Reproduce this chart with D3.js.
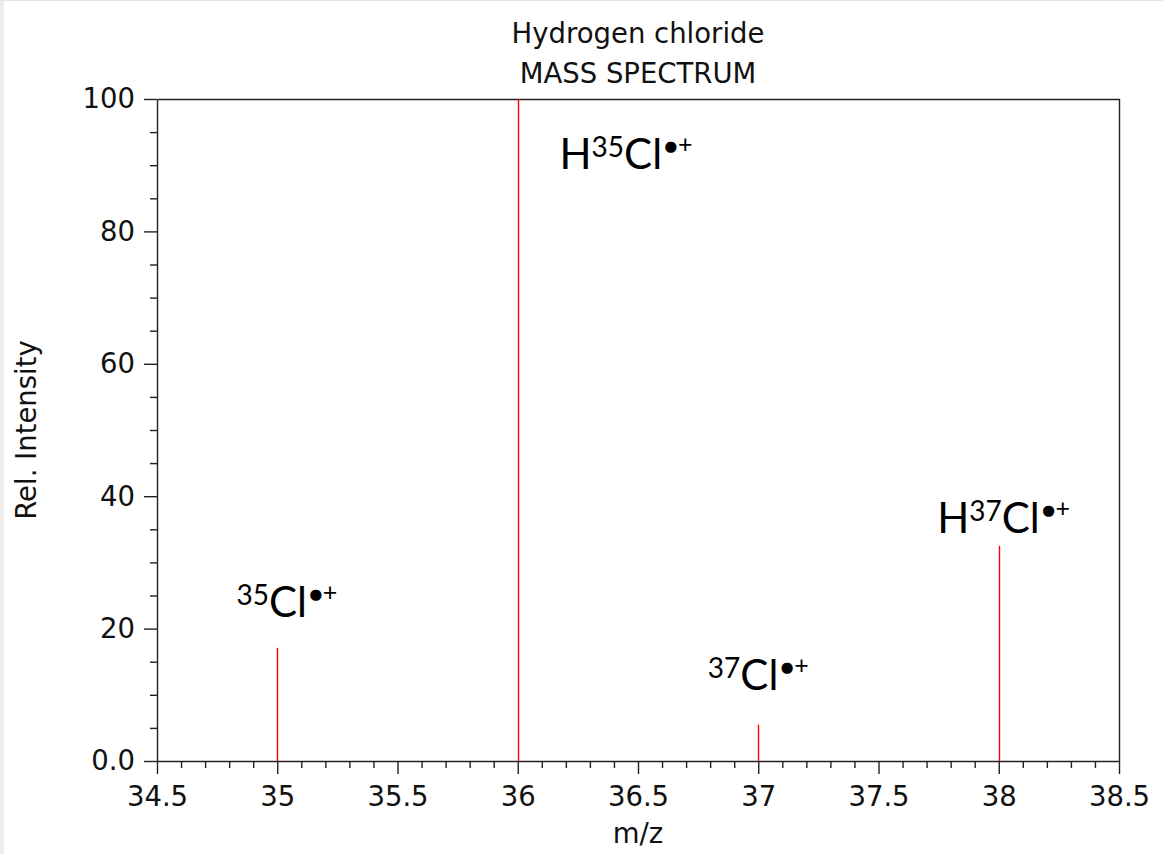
<!DOCTYPE html>
<html>
<head>
<meta charset="utf-8">
<script src="https://cdn.jsdelivr.net/npm/d3@7"></script>
<style>
  html, body { margin: 0; padding: 0; background: #fff; }
  svg { display: block; }
  .axis text { font-family: "DejaVu Sans", sans-serif; font-size: 27.5px; fill: #111; }
  .axis path, .axis line { stroke: #222; stroke-width: 1.4; }
  .ion { font-family: Lato, "Open Sans", sans-serif; fill: #000; }
</style>
</head>
<body>
<div id="chart"></div>
<script>
// peaks
const mzValues = [35, 36, 37, 38]
const intensities = [17.1, 100, 5.5, 32.5]

const xTicks = [34.5, 35, 35.5, 36, 36.5, 37, 37.5, 38, 38.5]
const xTickLabels = ["34.5", "35", "35.5", "36", "36.5", "37", "37.5", "38", "38.5"]
const yTicks = [0, 20, 40, 60, 80, 100]
const yTickLabels = ["0.0", "20", "40", "60", "80", "100"]

// ion annotations (anchor in data units)
const ionPrefix = ["", "H", "", "H"]
const ionIsotope = ["35", "35", "37", "37"]
const ionMz = [35.04, 36.45, 37.0, 38.02]
const ionLevel = [21.8, 89.4, 10.8, 34.5]

const W = 1163, H = 854
const margin = {top: 99, right: 44, bottom: 93, left: 157}

const svg = d3.select("#chart")
    .append("svg")
    .attr("width", W)
    .attr("height", H)

// faint window edges from the screenshot
svg.append("rect").attr("x", 0).attr("y", 0).attr("width", 4).attr("height", H).style("fill", "#ececec")
svg.append("line").attr("x1", 0).attr("x2", W).attr("y1", 0.5).attr("y2", 0.5).style("stroke", "#e4e4e4")

const x = d3.scaleLinear()
    .domain([34.5, 38.5])
    .range([margin.left, W - margin.right])

const y = d3.scaleLinear()
    .domain([0, 100])
    .range([H - margin.bottom, margin.top])

// minor ticks first
const xMinor = d3.range(345, 386).map(d => d / 10).filter(d => !xTicks.some(t => Math.abs(t - d) < 1e-9))
const yMinor = d3.range(0, 101, 5).filter(d => d % 20 !== 0)

svg.append("g")
    .attr("class", "axis")
    .attr("transform", `translate(0,${H - margin.bottom})`)
    .call(d3.axisBottom(x).tickValues(xMinor).tickSize(7).tickSizeOuter(0).tickFormat(""))
    .call(g => g.select(".domain").remove())

svg.append("g")
    .attr("class", "axis")
    .attr("transform", `translate(${margin.left},0)`)
    .call(d3.axisLeft(y).tickValues(yMinor).tickSize(7).tickSizeOuter(0).tickFormat(""))
    .call(g => g.select(".domain").remove())

// top and right frame
svg.append("path")
    .attr("d", `M${margin.left + 0.5},${margin.top + 0.5}H${W - margin.right + 0.5}V${H - margin.bottom + 0.5}`)
    .style("fill", "none")
    .style("stroke", "#222")
    .style("stroke-width", 1.4)

svg.append("g")
    .attr("class", "axis")
    .attr("transform", `translate(0,${H - margin.bottom})`)
    .call(d3.axisBottom(x).tickValues(xTicks).tickSize(13).tickSizeOuter(0).tickPadding(12)
        .tickFormat((d, i) => xTickLabels[i]))

svg.append("g")
    .attr("class", "axis")
    .attr("transform", `translate(${margin.left},0)`)
    .call(d3.axisLeft(y).tickValues(yTicks).tickSize(13).tickSizeOuter(0).tickPadding(9)
        .tickFormat((d, i) => yTickLabels[i]))

// peaks
svg.append("g")
    .selectAll("line")
    .data(mzValues)
    .join("line")
    .attr("x1", d => Math.round(x(d)) + 0.5)
    .attr("x2", d => Math.round(x(d)) + 0.5)
    .attr("y1", y(0))
    .attr("y2", (d, i) => y(intensities[i]))
    .style("stroke", "#ff0000")
    .style("stroke-width", 1.4)

// ion labels
const ions = svg.append("g")
    .selectAll("text")
    .data(ionMz)
    .join("text")
    .attr("class", "ion")
    .attr("x", d => x(d))
    .attr("y", (d, i) => y(ionLevel[i]))
    .attr("text-anchor", "middle")
    .style("font-size", "42px")

ions.each(function(d, i) {
    const t = d3.select(this)
    if (ionPrefix[i]) t.append("tspan").text(ionPrefix[i])
    t.append("tspan").attr("dy", -12).style("font-size", "28px").text(ionIsotope[i])
    t.append("tspan").attr("dy", 12).text("Cl")
    t.append("tspan").attr("dy", -15).attr("dx", 2).style("font-size", "23px").text("\u25CF")
    t.append("tspan").attr("dy", -1).style("font-size", "25px").text("+")
})

// titles
const title = svg.append("g")
    .style("font-family", "DejaVu Sans, sans-serif")
    .style("font-size", "27.5px")
    .style("fill", "#111")
    .attr("text-anchor", "middle")

title.append("text")
    .attr("x", (margin.left + W - margin.right) / 2)
    .attr("y", 43)
    .text("Hydrogen chloride")

title.append("text")
    .attr("x", (margin.left + W - margin.right) / 2)
    .attr("y", 83)
    .text("MASS SPECTRUM")

title.append("text")
    .attr("x", (margin.left + W - margin.right) / 2)
    .attr("y", 843)
    .text("m/z")

title.append("text")
    .attr("transform", `translate(36,${(margin.top + H - margin.bottom) / 2}) rotate(-90)`)
    .text("Rel. Intensity")
</script>
</body>
</html>
